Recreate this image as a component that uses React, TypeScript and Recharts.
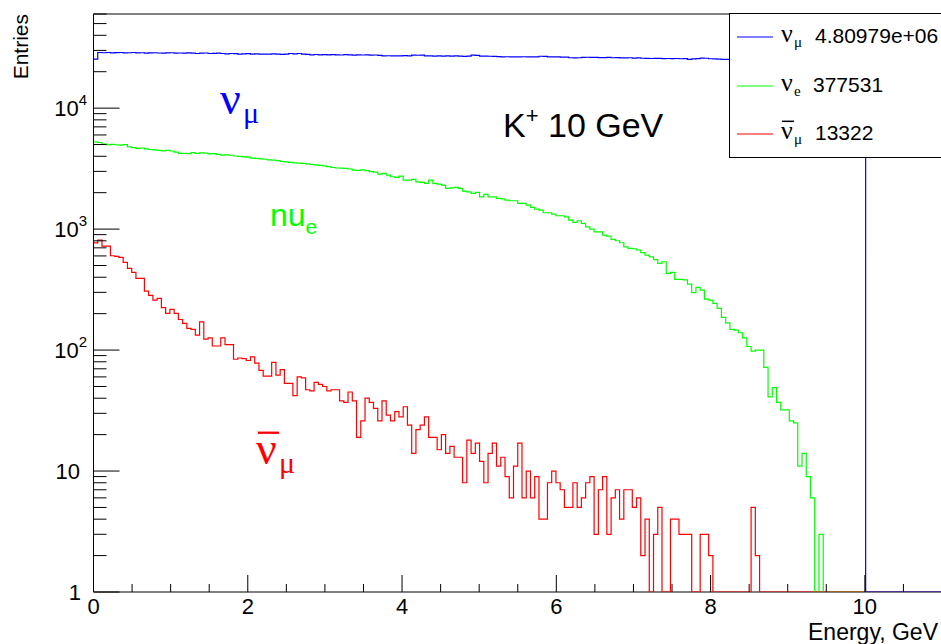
import React from 'react';
import { ComposedChart, Line, XAxis, YAxis, ReferenceLine } from 'recharts';

// 200 bins of 0.055 GeV over 0..11 GeV, counts per bin (trailing bins are empty)
const BIN_WIDTH = 0.055;
const N_BINS = 200;

const numuCounts = [
  25400,
  28840, 28700, 28840, 28660, 28750, 28840, 28600, 28700, 28840, 28660,
  28700, 28480, 28600, 28700, 28550, 28480, 28600, 28700, 28480, 28550,
  28480, 28600, 28480, 28300, 28480, 28550, 28300, 28400, 28480, 28300,
  28100, 28300, 28200, 27950, 28100, 28200, 28000, 28100, 27950, 28000,
  27950, 28100, 27950, 27800, 27950, 28300, 28100, 28300, 27950, 27800,
  27600, 27750, 27600, 27700, 27590, 27650, 27590, 27500, 27650, 27590,
  27450, 27590, 27500, 27590, 27400, 27500, 27300, 27070, 27100, 27070,
  27000, 27070, 27150, 27070, 27400, 27350, 27400, 27070, 27000, 26900,
  27070, 26950, 27000, 26900, 27070, 26950, 26800, 26950, 27400, 27300,
  26900, 26950, 26850, 26800, 26700, 26560, 26600, 26560, 26500, 26560,
  26600, 26560, 26480, 26560, 26850, 26800, 26560, 26480, 26560, 26400,
  26450, 26100, 26060, 26100, 26300, 26350, 26250, 26300, 26200, 26150,
  26250, 26100, 26150, 26060, 26000, 26100, 25900, 26000, 25850, 25800,
  25730, 25800, 25750, 25700, 25730, 25650, 25730, 25600, 25650, 25300,
  25500, 25650, 25900, 25850, 25600, 25500, 25400, 25300, 25250, 25300,
  25200, 25300, 25150, 25250, 25100, 25200, 25050, 25150, 25000, 25100,
  25050, 24950, 25000, 24900, 25000, 24850, 24950, 24900, 24800, 24900,
  24850, 24750, 24850, 24700, 24800, 24750, 24650, 24700, 24600, 24650, 24550,
];

const nueCounts = [
  5270, 5200, 5040, 5000, 5020, 4980, 4940, 4990, 4790, 4720,
  4640, 4680, 4600, 4550, 4520, 4480, 4430, 4470, 4420, 4330,
  4220, 4220, 4200, 4280, 4220, 4260, 4240, 4180, 4200, 4150,
  4090, 4100, 4080, 4020, 3990, 3960, 3930, 3860, 3840, 3810,
  3780, 3730, 3720, 3680, 3620, 3600, 3560, 3530, 3510, 3490,
  3460, 3420, 3400, 3360, 3330, 3280, 3230, 3200, 3190, 3180,
  3140, 3070, 3060, 3090, 3040, 2990, 2960, 2850, 2886, 2795,
  2708, 2673, 2742, 2541, 2541, 2575, 2460, 2431, 2384, 2541,
  2384, 2355, 2311, 2170, 2195, 2212, 2170, 2061, 2034, 1971,
  2011, 1850, 1936, 1850, 1850, 1793, 1780, 1738, 1715, 1715,
  1630, 1630, 1578, 1510, 1463, 1436, 1365, 1365, 1330, 1289,
  1289, 1264, 1187, 1136, 1172, 1114, 1045, 1000, 950, 950,
  892, 875, 822, 801, 771, 714, 692, 688, 672, 640,
  610, 590, 560, 521, 537, 430, 439, 384, 384, 380,
  351, 298, 330, 313, 264, 259, 243, 221, 186, 168,
  148, 146, 139, 126, 107, 98, 100, 100, 72, 41,
  49, 37, 32, 32, 26, 25, 11, 14, 9, 6,
  0, 3,
];

const anumuCounts = [
  770, 810, 724, 724, 602, 595, 584, 531, 473, 439,
  391, 391, 307, 283, 259, 267, 224, 201, 217, 201,
  179, 166, 151, 148, 133, 171, 123, 126, 108, 108,
  126, 111, 111, 84, 86, 85, 82, 88, 78, 68,
  61, 61, 79, 62, 69, 53, 53, 42, 60, 59,
  47, 46, 54, 52, 50, 46, 47, 47, 38, 37,
  45, 38, 19, 26, 40, 37, 33, 26, 38, 29,
  26, 31, 28, 34, 24, 14, 22, 24, 28, 19,
  19, 15, 20, 14, 16, 13, 13, 8, 18, 14,
  17, 12, 8, 14, 17, 11, 13, 9, 6, 11,
  17, 6, 10, 6, 9, 4, 4, 8, 10, 8,
  7, 5, 5, 8, 5, 6, 8, 9, 3, 7,
  9, 3, 6, 7, 4, 7, 7, 5, 6, 2,
  4, 0, 3, 5, 0, 0, 4, 4, 3, 3,
  3, 0, 0, 3, 3, 2, 0, 0, 0, 0,
  0, 0, 0, 0, 0, 5, 2,
];

const xTicks = [0, 0.5, 1, 1.5, 2, 2.5, 3, 3.5, 4, 4.5, 5, 5.5, 6, 6.5, 7, 7.5, 8, 8.5, 9, 9.5, 10, 10.5, 11];
const xLabelTicks = [0, 2, 4, 6, 8, 10];
const yDecades = [1, 10, 100, 1000, 10000];
const yMinorSteps = [2, 3, 4, 5, 6, 7, 8, 9];

const Y_MIN = 1;
const Y_MAX = 60000;

const yTicks = yDecades.flatMap((d) => [d, ...yMinorSteps.map((s) => s * d)]).filter((v) => v <= Y_MAX);

const legendEntries = [
  { key: 'numu', color: '#0000ff', sub: 'μ', bar: false, total: '4.80979e+06' },
  { key: 'nue', color: '#00ff00', sub: 'e', bar: false, total: '377531' },
  { key: 'anumu', color: '#ff0000', sub: 'μ', bar: true, total: '13322' },
];

// empty bins sit on the frame floor, as on a ROOT log pad
const floor = (v: number | undefined) => Math.max(v ?? 0, Y_MIN);

const rows = Array.from({ length: N_BINS + 1 }, (_, i) => {
  const k = Math.min(i, N_BINS - 1);
  return {
    x: i * BIN_WIDTH,
    numu: floor(numuCounts[k]),
    nue: floor(nueCounts[k]),
    anumu: floor(anumuCounts[k]),
  };
});

const W = 941;
const H = 644;
const PLOT_LEFT = 93.5;
const PLOT_TOP = 14;
const PLOT_BOTTOM = 592;

const SANS = "'Liberation Sans', Arial, Helvetica, sans-serif";
const SERIF = "'Liberation Serif', 'Times New Roman', serif";

function XTick(props: any) {
  const { x, payload } = props;
  const v = payload.value as number;
  const major = xLabelTicks.includes(v);
  return (
    <g>
      <line x1={x} x2={x} y1={PLOT_BOTTOM} y2={PLOT_BOTTOM - (major ? 17 : 8)} stroke="#000" strokeWidth={1} />
      {major && (
        <text x={x} y={614} textAnchor="middle" fontSize={22} fontFamily={SANS} fill="#000">
          {v}
        </text>
      )}
    </g>
  );
}

function YTick(props: any) {
  const { y, payload } = props;
  const v = payload.value as number;
  const exp = Math.round(Math.log10(v));
  const major = Math.abs(Math.log10(v) - exp) < 1e-9;
  let label: React.ReactNode = null;
  if (major) {
    if (exp === 0) {
      label = (
        <text x={81} y={y + 8} textAnchor="end" fontSize={22} fontFamily={SANS} fill="#000">1</text>
      );
    } else if (exp === 1) {
      label = (
        <text x={80} y={y + 8} textAnchor="end" fontSize={22} fontFamily={SANS} fill="#000">10</text>
      );
    } else {
      label = (
        <text x={87} y={y + 8} textAnchor="end" fontSize={22} fontFamily={SANS} fill="#000">
          10<tspan dy={-11} fontSize={15}>{exp}</tspan>
        </text>
      );
    }
  }
  return (
    <g>
      <line x1={PLOT_LEFT} x2={PLOT_LEFT + (major ? 26 : 13)} y1={y} y2={y} stroke="#000" strokeWidth={1} />
      {label}
    </g>
  );
}

function NuLabel({ x, y, size, sub, subSize, bar, color, font }: any) {
  const s = subSize ?? Math.round(size * 0.65);
  return (
    <g fill={color} fontFamily={font}>
      {bar && (
        <line
          x1={x + size * 0.04}
          x2={x + size * 0.5}
          y1={y - size * 0.68}
          y2={y - size * 0.68}
          stroke={color}
          strokeWidth={Math.max(1.5, size * 0.05)}
        />
      )}
      <text x={x} y={y} fontSize={size}>ν</text>
      <text x={x + size * 0.5} y={y + size * 0.2} fontSize={s}>{sub}</text>
    </g>
  );
}

function HistLegend() {
  const rowY = [37, 86, 134];
  return (
    <div
      style={{
        position: 'absolute',
        left: 729,
        top: 13,
        width: 220,
        height: 145,
        border: '1px solid #000',
        background: '#fff',
        boxSizing: 'border-box',
      }}
    >
      <svg width={220} height={145} style={{ position: 'absolute', left: -1, top: -1 }}>
        {legendEntries.map((e, i) => {
          const cy = rowY[i] - 13;
          return (
            <g key={e.key}>
              <line x1={8} x2={44} y1={cy} y2={cy} stroke={e.color} strokeWidth={1.2} />
              <NuLabel x={52} y={cy + 5} size={26} subSize={15} sub={e.sub} bar={e.bar} color="#000" font={SERIF} />
              <text x={e.key === 'nue' ? 84 : 86} y={cy + 6} fontSize={21} fontFamily={SANS} fill="#000">
                {e.total}
              </text>
            </g>
          );
        })}
      </svg>
    </div>
  );
}

export default function App() {
  return (
    <div style={{ position: 'absolute', left: 0, top: 0, width: W, height: H, overflow: 'hidden', background: '#fff' }}>
      {/* frame floor sits under the histograms so empty bins stay visible on it */}
      <svg width={W} height={H} style={{ position: 'absolute', left: 0, top: 0 }}>
        <line x1={PLOT_LEFT} x2={W + 2} y1={PLOT_BOTTOM} y2={PLOT_BOTTOM} stroke="#000" strokeWidth={1} />
      </svg>
      <ComposedChart
        width={W + 1}
        height={H}
        data={rows}
        margin={{ top: PLOT_TOP, right: 0, bottom: 0, left: 0 }}
        style={{ position: 'absolute', left: 0, top: 0 }}
      >
        <XAxis
          dataKey="x"
          type="number"
          domain={[0, 11]}
          allowDataOverflow
          ticks={xTicks}
          interval={0}
          tick={<XTick />}
          tickLine={false}
          axisLine={false}
          height={H - PLOT_BOTTOM}
        />
        <YAxis
          type="number"
          scale="log"
          domain={[Y_MIN, Y_MAX]}
          allowDataOverflow
          ticks={yTicks}
          interval={0}
          tick={<YTick />}
          tickLine={false}
          axisLine={{ stroke: '#000', strokeWidth: 1 }}
          width={PLOT_LEFT}
        />
        <ReferenceLine y={Y_MAX} stroke="#000" strokeWidth={1} />
        <Line type="stepAfter" dataKey="nue" stroke="#00ff00" strokeWidth={1.2} dot={false} isAnimationActive={false} />
        <Line type="stepAfter" dataKey="anumu" stroke="#ff0000" strokeWidth={1.2} dot={false} isAnimationActive={false} />
        <Line type="stepAfter" dataKey="numu" stroke="#0000ff" strokeWidth={1.2} dot={false} isAnimationActive={false} />
      </ComposedChart>

      <svg width={W} height={H} style={{ position: 'absolute', left: 0, top: 0, pointerEvents: 'none' }}>
        <text
          x={28}
          y={PLOT_TOP}
          transform={`rotate(-90 28 ${PLOT_TOP})`}
          textAnchor="end"
          fontSize={21}
          fontFamily={SANS}
          fill="#000"
        >
          Entries
        </text>
        <text x={938} y={640} textAnchor="end" fontSize={23} fontFamily={SANS} fill="#000">
          Energy, GeV
        </text>
        <NuLabel x={220} y={114} size={46} sub="μ" bar={false} color="#0000ff" font={SERIF} />
        <text x={503} y={137} fontSize={34} fontFamily={SANS} fill="#000">
          K<tspan dy={-14} fontSize={22}>+</tspan>
          <tspan dy={14}> 10 GeV</tspan>
        </text>
        <text x={270} y={226} fontSize={32} fontFamily={SANS} fill="#00ff00">
          nu<tspan dy={8} fontSize={21}>e</tspan>
        </text>
        <NuLabel x={256} y={464} size={46} sub="μ" bar={true} color="#ff0000" font={SERIF} />
      </svg>

      <HistLegend />
    </div>
  );
}
